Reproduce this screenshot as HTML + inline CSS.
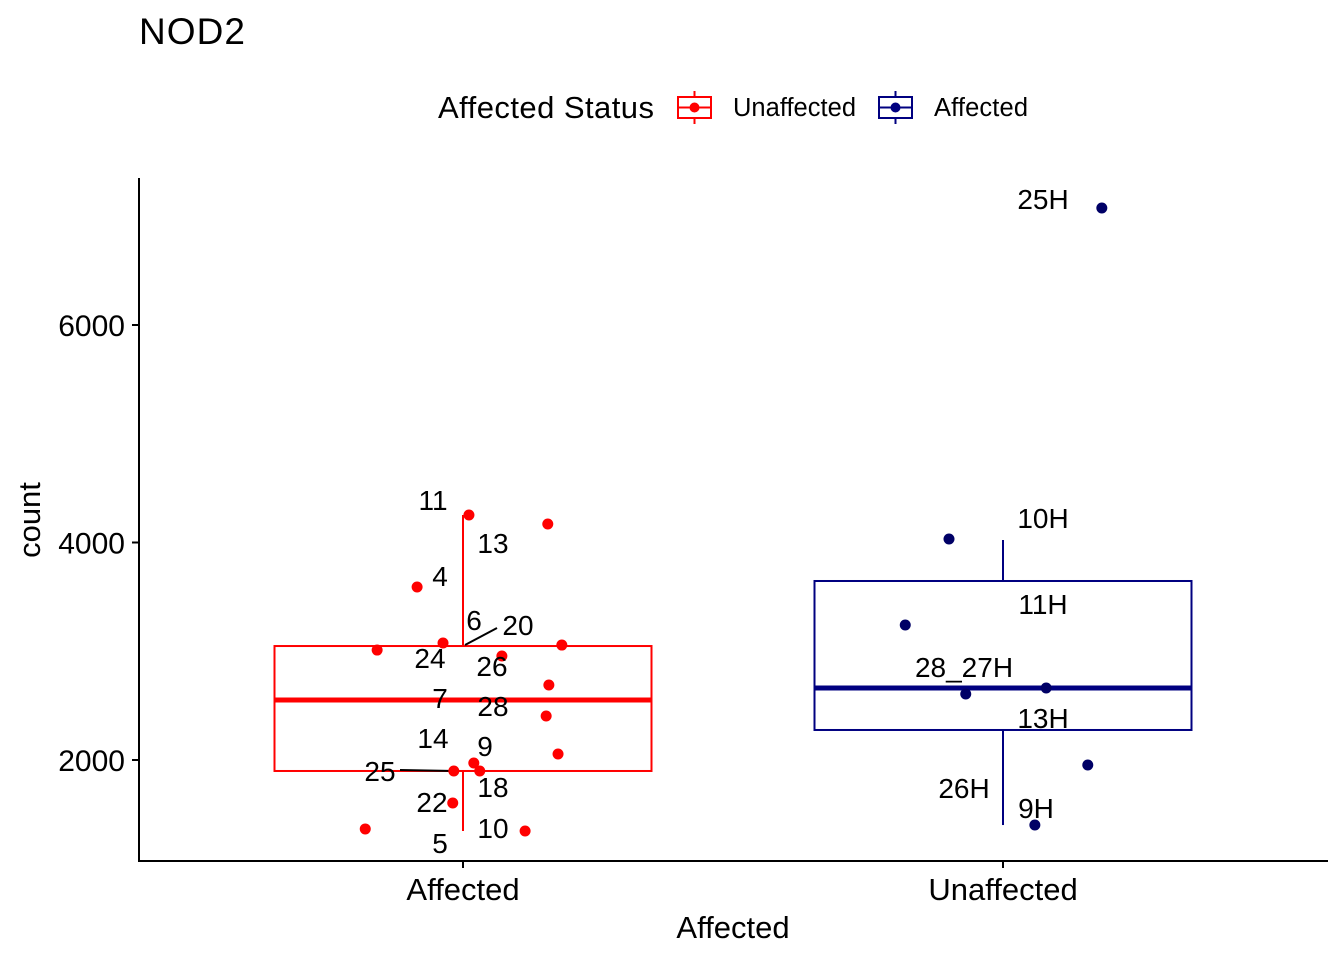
<!DOCTYPE html>
<html><head><meta charset="utf-8"><style>
body{margin:0;background:#fff}
svg text{font-family:"Liberation Sans",Arial,sans-serif;fill:#000}
</style></head><body>
<svg id="chart" width="1344" height="960" xmlns="http://www.w3.org/2000/svg">
<text x="139" y="44" font-size="37" textLength="106">NOD2</text>
<g>
<text x="438" y="118" font-size="31" textLength="216">Affected Status</text>
<g>
<rect x="678" y="97" width="33" height="21" fill="none" stroke="#ff0000" stroke-width="2"/>
<line x1="694.5" y1="91" x2="694.5" y2="97" stroke="#ff0000" stroke-width="2"/><line x1="694.5" y1="118" x2="694.5" y2="124" stroke="#ff0000" stroke-width="2"/>
<line x1="678" y1="107.5" x2="711" y2="107.5" stroke="#ff0000" stroke-width="2"/><circle cx="694.5" cy="107.5" r="5" fill="#ff0000"/>
<text x="733" y="116" font-size="25.5" textLength="123">Unaffected</text></g>
<g>
<rect x="879" y="97" width="33" height="21" fill="none" stroke="#000080" stroke-width="2"/>
<line x1="895.5" y1="91" x2="895.5" y2="97" stroke="#000080" stroke-width="2"/><line x1="895.5" y1="118" x2="895.5" y2="124" stroke="#000080" stroke-width="2"/>
<line x1="879" y1="107.5" x2="912" y2="107.5" stroke="#000080" stroke-width="2"/><circle cx="895.5" cy="107.5" r="5" fill="#000080"/>
<text x="934" y="116" font-size="25.5" textLength="94">Affected</text></g>
</g>
<g id="plot"></g>
</svg>
<script>
const categories=["Affected","Unaffected"];
const boxColors=["#ff0000","#000080"];
const boxLow=[1347,1402];
const boxQ1=[1899,2276];
const boxMedian=[2552,2662];
const boxQ3=[3048,3646];
const boxHigh=[4253,4023];
const ptsAffectedJitter=[0.011,0.157,-0.085,-0.037,0.072,-0.159,0.183,0.159,0.154,0.176,0.020,0.031,-0.017,-0.019,-0.181,0.115];
const ptsAffectedValues=[4253,4170,3591,3076,2956,3011,3057,2690,2405,2055,1972,1899,1899,1605,1366,1347];
const ptsUnaffJitter=[0.183,-0.100,-0.181,-0.069,0.080,0.157,0.059];
const ptsUnaffValues=[7076,4032,3241,2607,2662,1954,1402];
const labelsAffected=["11","13","4","6","20","24","26","7","28","14","9","25","18","22","10","5"];
const labelsAffectedVal=[4391,3995,3692,3287,3241,2938,2864,2570,2497,2202,2129,1899,1752,1614,1375,1237];
const labelsAffectedDx=[-30,30,-23,11,55,-33,29,-23,30,-30,22,-83,30,-31,30,-23];
const labelsUnaff=["25H","10H","11H","28_27H","13H","26H","9H"];
const labelsUnaffVal=[7159,4225,3434,2855,2386,1743,1559];
const labelsUnaffDx=[40,40,40,-39,40,-39,33];
const yTicks=[2000,4000,6000];
const NS="http://www.w3.org/2000/svg";
const g=document.getElementById('plot');
const X0=139,X1=1328,YB=861,YT=178;
const xs=c=>463+c*540;
const ys=v=>760-(v-2000)*0.10875;
const half=188.5;
function el(t,a,p){const e=document.createElementNS(NS,t);for(const k in a)e.setAttribute(k,a[k]);(p||g).appendChild(e);return e;}
let ax=el('line',{x1:X0,y1:YB,x2:X1,y2:YB,stroke:'#000','stroke-width':2});


let ay=el('line',{x1:X0,y1:YT,x2:X0,y2:YB+1,stroke:'#000','stroke-width':2});


yTicks.forEach(v=>{
 el('line',{x1:X0-7,x2:X0,y1:ys(v),y2:ys(v),stroke:'#000','stroke-width':2});
 const t=el('text',{x:X0-14,y:ys(v)+11,'text-anchor':'end','font-size':30});t.textContent=v;
 
 
});
categories.forEach((c,i)=>{
 el('line',{x1:xs(i),x2:xs(i),y1:YB,y2:YB+7,stroke:'#000','stroke-width':2});
 const t=el('text',{x:xs(i),y:900,'text-anchor':'middle','font-size':31});t.textContent=c;
 
 
 const b=el('g',{});
 
 
 const col=boxColors[i];
 el('line',{x1:xs(i),x2:xs(i),y1:ys(boxHigh[i]),y2:ys(boxQ3[i]),stroke:col,'stroke-width':2},b);
 el('line',{x1:xs(i),x2:xs(i),y1:ys(boxQ1[i]),y2:ys(boxLow[i]),stroke:col,'stroke-width':2},b);
 el('rect',{x:xs(i)-half,y:ys(boxQ3[i]),width:2*half,height:ys(boxQ1[i])-ys(boxQ3[i]),fill:'none',stroke:col,'stroke-width':2},b);
 el('line',{x1:xs(i)-half,x2:xs(i)+half,y1:ys(boxMedian[i]),y2:ys(boxMedian[i]),stroke:col,'stroke-width':5},b);
});
const xt=el('text',{x:733,y:938,'text-anchor':'middle','font-size':31});xt.textContent='Affected';


const yt=el('text',{x:40,y:520,'text-anchor':'middle','font-size':31,transform:'rotate(-90 40 520)'});yt.textContent='count';


el('line',{x1:465,y1:645,x2:497,y2:628,stroke:'#000','stroke-width':2});
el('line',{x1:400,y1:770,x2:454,y2:771,stroke:'#000','stroke-width':2});
ptsAffectedValues.forEach((v,i)=>{
 const p=el('circle',{cx:xs(ptsAffectedJitter[i]),cy:ys(v),r:5.5,fill:'#ff0000'});
 
 
});
ptsUnaffValues.forEach((v,i)=>{
 const p=el('circle',{cx:xs(1+ptsUnaffJitter[i]),cy:ys(v),r:5.5,fill:'#000066'});
 
 
});
labelsAffected.forEach((s,i)=>{
 const t=el('text',{x:xs(0)+labelsAffectedDx[i],y:ys(labelsAffectedVal[i])+10,'text-anchor':'middle','font-size':28});t.textContent=s;
 
 
});
labelsUnaff.forEach((s,i)=>{
 const t=el('text',{x:xs(1)+labelsUnaffDx[i],y:ys(labelsUnaffVal[i])+10,'text-anchor':'middle','font-size':28});t.textContent=s;
 
 
});
</script>
</body></html>
